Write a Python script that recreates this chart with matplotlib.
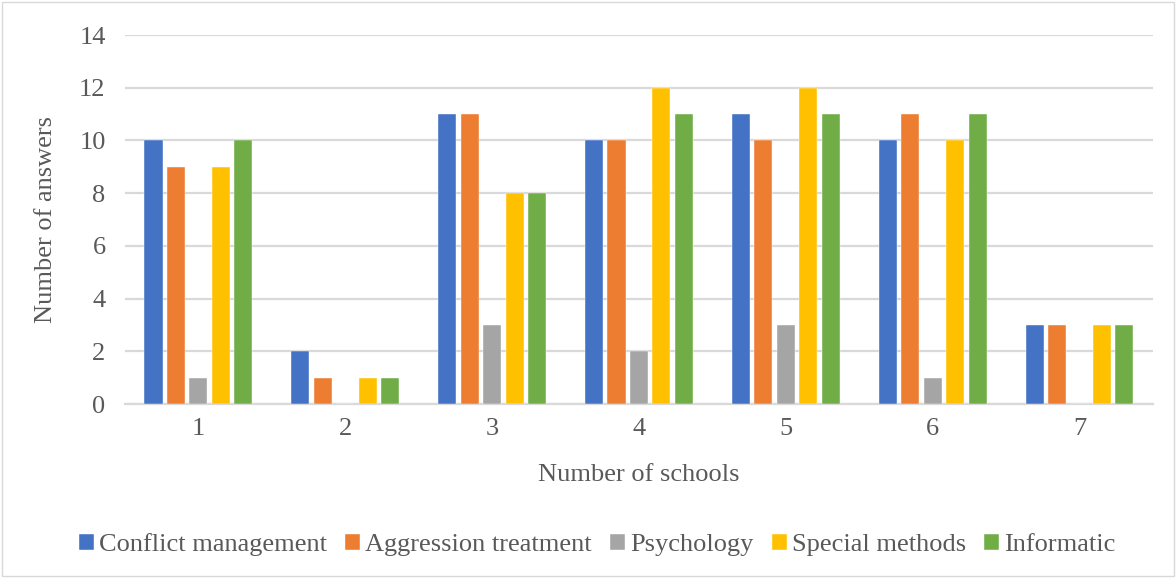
import matplotlib
matplotlib.use("Agg")
import matplotlib.pyplot as plt
import numpy as np
from matplotlib.patches import Rectangle

schools = ["1", "2", "3", "4", "5", "6", "7"]
conflict_management = [10, 2, 11, 10, 11, 10, 3]
aggression_treatment = [9, 1, 11, 10, 10, 11, 3]
psychology = [1, 0, 3, 2, 3, 1, 0]
special_methods = [9, 1, 8, 12, 12, 10, 3]
informatic = [10, 1, 8, 11, 11, 11, 3]

series_names = ["Conflict management", "Aggression treatment", "Psychology",
                "Special methods", "Informatic"]
series_values = [conflict_management, aggression_treatment, psychology,
                 special_methods, informatic]
colors = ["#4472C4", "#ED7D31", "#A5A5A5", "#FFC000", "#70AD47"]

plt.rcParams["font.family"] = ["Liberation Serif", "DejaVu Serif"]
text_color = "#595959"
grid_color = "#D9D9D9"
fs = 19

fig = plt.figure(figsize=(11.76, 5.78), dpi=100)
ax = fig.add_axes([0.1063, 0.301, 0.8741, 0.6384])

x = np.arange(len(schools))
step = 0.153
width = 0.123
for i, (name, vals, col) in enumerate(zip(series_names, series_values, colors)):
    offs = (i - 2) * step
    ax.bar(x + offs, vals, width=width, color=col, label=name,
           edgecolor="white", linewidth=0.3, zorder=3)

ax.set_xlim(-0.5, len(schools) - 0.5)
ax.set_ylim(0, 14)
ax.set_yticks(range(0, 15, 2))
ax.set_xticks(x)
ax.set_xticklabels(schools)

ax.yaxis.grid(True, color=grid_color, linewidth=1.6, zorder=0)
ax.set_axisbelow(True)
for side in ["top", "right", "left"]:
    ax.spines[side].set_visible(False)
ax.spines["bottom"].set_color(grid_color)
ax.spines["bottom"].set_linewidth(1.6)
ax.tick_params(axis="both", length=0, labelsize=fs, colors=text_color)
ax.tick_params(axis="x", pad=10)
ax.tick_params(axis="y", pad=14)

ax.set_xlabel("Number of schools", fontsize=fs, color=text_color, labelpad=17)
ax.set_ylabel("Number of answers", fontsize=fs, color=text_color, labelpad=16)

leg = fig.legend(loc="center", bbox_to_anchor=(0.508, 0.058), ncol=5,
                 frameon=False, fontsize=fs, handlelength=0.55, handleheight=0.55,
                 handletextpad=0.2, columnspacing=0.7)
for t in leg.get_texts():
    t.set_color(text_color)

fig.patches.append(Rectangle((0.002, 0.003), 0.996, 0.994, transform=fig.transFigure,
                             fill=False, edgecolor="#D9D9D9", linewidth=1.0))

fig.savefig("out.png", dpi=100, facecolor="white")
